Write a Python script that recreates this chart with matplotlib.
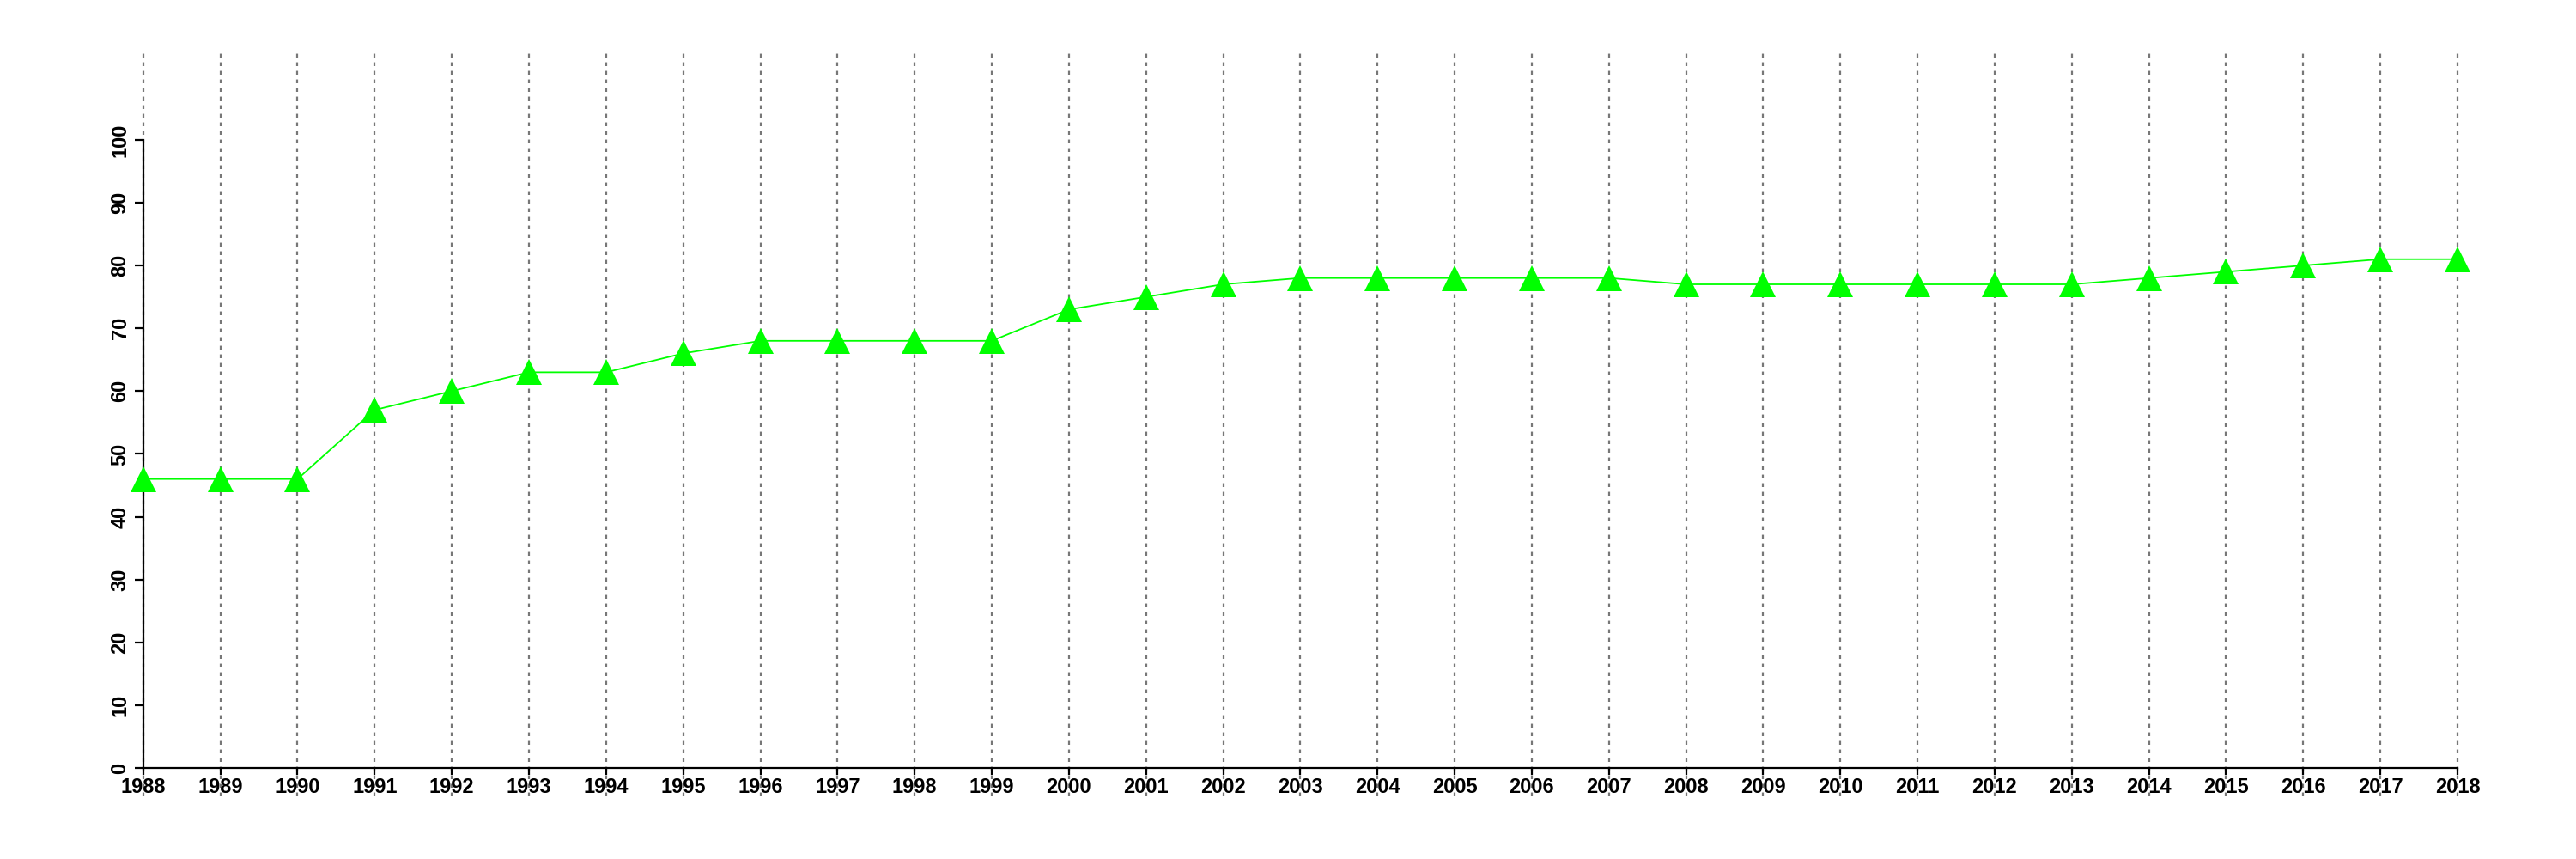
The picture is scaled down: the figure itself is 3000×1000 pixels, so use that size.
import numpy as np
import matplotlib
matplotlib.use("Agg")
import matplotlib.pyplot as plt

years = list(range(1988, 2019))
values = [46, 46, 46, 57, 60, 63, 63, 66, 68, 68, 68, 68, 73, 75, 77, 78,
          78, 78, 78, 78, 77, 77, 77, 77, 77, 77, 78, 79, 80, 81, 81]
yticks = list(range(0, 101, 10))

plt.rcParams['font.family'] = ['Liberation Sans', 'DejaVu Sans']

fig = plt.figure(figsize=(30, 10), dpi=100)
ax = fig.add_axes([0.0556, 0.073, 0.954 - 0.0556, 0.941 - 0.073])

ax.plot(years, values, color='#00ff00', lw=1.3, marker='^', markersize=21,
        markeredgewidth=0, clip_on=False, zorder=3)

ax.set_xlim(1988, 2018)
ax.set_ylim(-4.51, 114.2)

for s in ['top', 'right']:
    ax.spines[s].set_visible(False)
ax.spines['bottom'].set_position(('data', 0))
ax.spines['bottom'].set_bounds(1988, 2018)
ax.spines['left'].set_bounds(0, 100)
ax.spines['bottom'].set_linewidth(1.6)
ax.spines['left'].set_linewidth(1.6)

ax.set_xticks(years)
ax.set_xticklabels([str(y) for y in years], fontsize=17, fontweight='bold')
ax.set_yticks(yticks)
ax.set_yticklabels([str(v) for v in yticks], fontsize=17, fontweight='bold',
                   rotation=90, va='center')
ax.tick_params(axis='x', length=6, width=1.6, pad=2)
ax.tick_params(axis='y', length=7, width=1.6, pad=4)

ax.grid(axis='x', color='#777777', linestyle=(0, (2, 2.5)), lw=1.6)
ax.set_axisbelow(True)
for gl in ax.get_xgridlines():
    gl.set_clip_on(False)

fig.savefig("out.png", dpi=100)
